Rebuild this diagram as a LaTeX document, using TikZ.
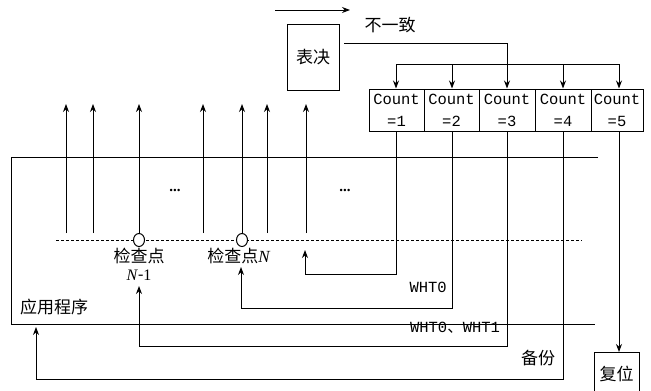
\documentclass[tikz,border=0pt]{standalone}
\usepackage{fontspec}
\setmainfont{Liberation Serif}
\setmonofont{Liberation Mono}
\newfontfamily\cjk{Noto Sans CJK SC}
\usetikzlibrary{arrows.meta,positioning}
\tikzset{
  ln/.style={line width=1pt},
  arr/.style={ln,-{Stealth[length=8pt,width=6pt]}},
  cj/.style={font=\cjk\fontsize{17}{20}\selectfont, inner sep=0pt},
  mono/.style={font=\ttfamily\fontsize{15.5}{22}\selectfont, inner sep=0pt, align=center},
  cell/.style={draw, ln, minimum height=42pt, inner sep=0pt, font=\ttfamily\fontsize{15.5}{22}\selectfont, align=center},
  box/.style={draw, ln, inner sep=0pt},
  dots/.style={font=\bfseries\fontsize{15}{15}\selectfont, inner sep=0pt},
  ck/.style={draw, ln, ellipse, minimum width=11pt, minimum height=13pt, inner sep=0pt, fill=white}
}
\usetikzlibrary{shapes.geometric}
\begin{document}
\begin{tikzpicture}[x=1pt,y=-1pt]
\useasboundingbox (0,0) rectangle (651,391);
% top arrow
\coordinate (ta1) at (275,10);
\coordinate (ta2) at (350,10);
\draw[arr] (ta1) -- (ta2);
% vote box
\node[box, cj, minimum width=52pt, minimum height=66pt] (vote) at (313,57) {表决};
\node[cj] (incon) at (390,25) {不一致};
% count cells
\node[cell, minimum width=55pt] (c1) at (396.5,110) {Count\\=1};
\node[cell, minimum width=55pt] (c2) at (451.5,110) {Count\\=2};
\node[cell, minimum width=56pt] (c3) at (507,110) {Count\\=3};
\node[cell, minimum width=56pt] (c4) at (563,110) {Count\\=4};
\node[cell, minimum width=52pt] (c5) at (617,110) {Count\\=5};
% vote -> distribution
\coordinate (v1) at (344,43);
\coordinate (v2) at (507,43);
\draw[arr] (v1) -- (v2) -- (c3.north);
\coordinate (d1) at (396,64);
\coordinate (d5) at (619,64);
\draw[ln] (d1) -- (d5);
\draw[arr] (d1) -- (d1 |- c1.north);
\draw[arr] (452,64) -- (c2.north -| 452,0);
\draw[arr] (563,64) -- (c4.north -| 563,0);
\draw[arr] (d5) -- (d5 |- c5.north);
% application box
\coordinate (a1) at (598,157);
\coordinate (a2) at (11,157);
\coordinate (a3) at (11,324);
\coordinate (a4) at (595,324);
\draw[ln] (a1) -- (a2) -- (a3) -- (a4);
\node[cj, anchor=west] (app) at (20,307) {应用程序};
% dashed line
\coordinate (dl1) at (56,240);
\coordinate (dl2) at (582,240);
\draw[ln, dash pattern=on 3pt off 2pt] (dl1) -- (dl2);
% checkpoints
\node[ck] (k1) at (139,240) {};
\node[ck] (k2) at (242,240) {};
% upward arrows
\foreach \x [count=\i] in {66,93,203,267,306} {
  \coordinate (u\i) at (\x,233);
  \draw[arr] (u\i) -- (\x,104);
}
\draw[arr] (k1.north) -- (139,104);
\draw[arr] (k2.north) -- (242,104);
% dots
\node[dots] (dt1) at (175,190) {...};
\node[dots] (dt2) at (345,190) {...};
% checkpoint labels
\node[cj] (l1) at (139,256) {检查点};
\node[font=\fontsize{16}{18}\selectfont, inner sep=0pt] (l1b) at (139,275) {\textit{N}\raisebox{0.1ex}{-}1};
\node[cj] (l2) at (239,256) {检查点\textit{\fontspec{Liberation Serif}N}};
% feedback lines
\coordinate (f1a) at (396,274);
\coordinate (f1b) at (305,274);
\coordinate (f1c) at (305,250);
\draw[arr] (c1.south -| 396,0) -- (f1a) -- (f1b) -- (f1c);
\coordinate (f2a) at (452,308);
\coordinate (f2b) at (241,308);
\coordinate (f2c) at (241,267);
\draw[arr] (c2.south -| 452,0) -- (f2a) -- (f2b) -- (f2c);
\coordinate (f3a) at (507,346);
\coordinate (f3b) at (139,346);
\coordinate (f3c) at (139,286);
\draw[arr] (c3.south) -- (f3a) -- (f3b) -- (f3c);
\coordinate (f4a) at (563,379);
\coordinate (f4b) at (36,379);
\coordinate (f4c) at (36,327);
\draw[arr] (c4.south -| 563,0) -- (f4a) -- (f4b) -- (f4c);
% reset
\node[box, cj, minimum width=45pt, minimum height=46pt, anchor=north] (reset) at (616.5,352) {\raisebox{5pt}{复位}};
\draw[arr] (c5.south -| 619,0) -- (reset.north -| 619,0);
% labels
\node[mono, anchor=east] (w0) at (447,287) {WHT0};
\node[mono] (w01) at (455,328) {WHT0{\cjk 、}WHT1};
\node[cj] (bk) at (538,358) {备份};
\end{tikzpicture}
\end{document}
